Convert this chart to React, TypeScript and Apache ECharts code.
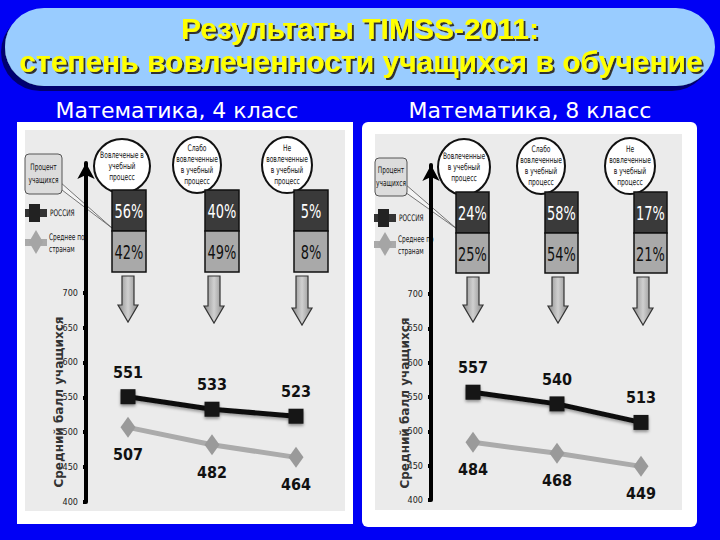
import React, { useEffect, useRef } from "react";
import * as echarts from "echarts";

const categories = ["Вовлеченные", "Слабо вовлеченные", "Не вовлеченные"];
const bubbles4 = ["Вовлеченые в\nучебный\nпроцесс", "Слабо\nвовлеченные\nв учебный\nпроцесс", "Не\nвовлеченные\nв учебный\nпроцесс"];
const bubbles8 = ["Вовлеченные\nв учебный\nпроцесс", "Слабо\nвовлеченные\nв учебный\nпроцесс", "Не\nвовлеченные\nв учебный\nпроцесс"];
const russia4 = [551, 533, 523];
const avg4 = [507, 482, 464];
const russia8 = [557, 540, 513];
const avg8 = [484, 468, 449];
const pctRussia4 = [56, 40, 5];
const pctAvg4 = [42, 49, 8];
const pctRussia8 = [24, 58, 17];
const pctAvg8 = [25, 54, 21];
const yTicks = [400, 450, 500, 550, 600, 650, 700];

const NARROW = '"Liberation Sans Narrow", "DejaVu Sans Condensed", "Liberation Sans", sans-serif';
const SANS = '"Liberation Sans", Arial, sans-serif';

type PanelCfg = {
  bubbles: string[];
  pctR: number[];
  pctA: number[];
  bubbleC: { cx: number; cy: number; rx: number; ry: number }[];
  boxX: number[];
  boxW: number;
  boxTop: number;
  boxMid: number;
  boxBot: number;
  arrowX: number[];
  arrowTop: number;
  arrowTip: number[];
  callout: { x: number; y: number; w: number; h: number };
  pointer: number[][];
  legendX: number;
  legendRY: number;
  legendAY: number;
  nameX: number;
  nameY: number;
};

function txt(text: string, x: number, y: number, style: any, sx = 1, extra: any = {}): any {
  return {
    type: "text", z: 4, x, y, scaleX: sx, ...extra,
    style: { text, x: 0, y: 0, fontFamily: NARROW, fill: "#111", textVerticalAlign: "middle", ...style },
  };
}

function panelElements(c: PanelCfg): any[] {
  const els: any[] = [];
  c.bubbleC.forEach((b, i) => {
    els.push({ type: "ellipse", z: 3, shape: { cx: b.cx, cy: b.cy, rx: b.rx, ry: b.ry }, style: { fill: "#ffffff", stroke: "#111", lineWidth: 2 } });
    els.push(txt(c.bubbles[i], b.cx, b.cy, { textAlign: "center", fontSize: 9, lineHeight: 11 }, 0.74));
  });
  c.boxX.forEach((x, i) => {
    els.push({ type: "rect", z: 3, shape: { x, y: c.boxTop, width: c.boxW, height: c.boxMid - c.boxTop }, style: { fill: "#3a3a3a", stroke: "#111", lineWidth: 1.5 } });
    els.push({ type: "rect", z: 3, shape: { x, y: c.boxMid, width: c.boxW, height: c.boxBot - c.boxMid }, style: { fill: "#a9a9a9", stroke: "#111", lineWidth: 1.5 } });
    els.push(txt(c.pctR[i] + "%", x + c.boxW / 2, (c.boxTop + c.boxMid) / 2 + 1, { textAlign: "center", fontSize: 20, fill: "#fff" }, 0.72));
    els.push(txt(c.pctA[i] + "%", x + c.boxW / 2, (c.boxMid + c.boxBot) / 2 + 1, { textAlign: "center", fontSize: 20, fill: "#111" }, 0.72));
  });
  c.arrowX.forEach((cx, i) => {
    const yt = c.arrowTop;
    const yb = c.arrowTip[i];
    const hh = 17;
    els.push({
      type: "polygon", z: 3,
      shape: { points: [[cx - 6, yt], [cx + 6, yt], [cx + 6, yb - hh], [cx + 10, yb - hh], [cx, yb], [cx - 10, yb - hh], [cx - 6, yb - hh]] },
      style: { fill: new echarts.graphic.LinearGradient(0, 0, 1, 0, [{ offset: 0, color: "#8a8a8a" }, { offset: 0.5, color: "#d0d0d0" }, { offset: 1, color: "#8a8a8a" }]), stroke: "#333", lineWidth: 1.2 },
    });
  });
  const co = c.callout;
  els.push({ type: "polyline", z: 2, shape: { points: c.pointer }, style: { stroke: "#555", lineWidth: 0.8, fill: "#f4f4f4" } });
  els.push({ type: "rect", z: 3, shape: { x: co.x, y: co.y, width: co.w, height: co.h, r: 4 }, style: { fill: "#dcdcdc", stroke: "#555", lineWidth: 1 } });
  els.push(txt("Процент\nучащихся", co.x + co.w / 2, co.y + co.h / 2, { textAlign: "center", fontSize: 9, lineHeight: 13 }, 0.72));
  const lx = c.legendX;
  const ry = c.legendRY;
  els.push({ type: "rect", z: 3, shape: { x: lx, y: ry - 4, width: 22, height: 8 }, style: { fill: "#333" } });
  els.push({ type: "rect", z: 3, shape: { x: lx + 4, y: ry - 9, width: 11, height: 18 }, style: { fill: "#222" } });
  els.push(txt("РОССИЯ", lx + 25, ry, { fontSize: 9 }, 0.72));
  const ay = c.legendAY;
  els.push({ type: "rect", z: 3, shape: { x: lx, y: ay - 3, width: 22, height: 7 }, style: { fill: "#aaa" } });
  els.push({ type: "polygon", z: 3, shape: { points: [[lx + 11, ay - 12], [lx + 18, ay], [lx + 11, ay + 12], [lx + 4, ay]] }, style: { fill: "#a5a5a5" } });
  els.push(txt("Среднее по\nстранам", lx + 24, ay + 1, { fontSize: 9, lineHeight: 12 }, 0.72));
  els.push(txt("Средний балл учащихся", c.nameX, c.nameY, { textAlign: "center", fontSize: 12, fontWeight: "bold", fontFamily: '"DejaVu Sans", sans-serif', fill: "#333" }, 1, { rotation: Math.PI / 2 }));
  return els;
}

function makeSeries(idx: number, r: number[], a: number[]): any[] {
  const label = (pos: string) => ({ show: true, position: pos, distance: 9, fontSize: 16, fontWeight: "bold", fontFamily: NARROW, color: "#111" });
  return [
    {
      type: "line", xAxisIndex: idx, yAxisIndex: idx, data: r, symbol: "rect", symbolSize: 15,
      lineStyle: { color: "#111", width: 5, shadowColor: "rgba(0,0,0,0.35)", shadowBlur: 3, shadowOffsetY: 2 },
      itemStyle: { color: "#151515", shadowColor: "rgba(0,0,0,0.4)", shadowBlur: 3, shadowOffsetY: 2 },
      label: label("top"), z: 5,
    },
    {
      type: "line", xAxisIndex: idx, yAxisIndex: idx, data: a, symbol: "diamond", symbolSize: [15, 21],
      lineStyle: { color: "#ababab", width: 5 },
      itemStyle: { color: "#9a9a9a" },
      label: label("bottom"), z: 4,
    },
  ];
}

export default function App() {
  const ref = useRef<HTMLDivElement>(null);
  useEffect(() => {
    if (!ref.current) return;
    const chart = echarts.init(ref.current, null, { renderer: "svg" });
    const left: PanelCfg = {
      bubbles: bubbles4, pctR: pctRussia4, pctA: pctAvg4,
      bubbleC: [{ cx: 122, cy: 166, rx: 28, ry: 27 }, { cx: 197, cy: 165, rx: 24, ry: 28 }, { cx: 287, cy: 165, rx: 25, ry: 28 }],
      boxX: [112, 205, 294], boxW: 34, boxTop: 190, boxMid: 231, boxBot: 272,
      arrowX: [128, 214, 302], arrowTop: 276, arrowTip: [322, 323, 325],
      callout: { x: 25, y: 154, w: 37, h: 40 },
      pointer: [[60, 182], [112, 228], [62, 190]],
      legendX: 25, legendRY: 213, legendAY: 242, nameX: 59, nameY: 402,
    };
    const right: PanelCfg = {
      bubbles: bubbles8, pctR: pctRussia8, pctA: pctAvg8,
      bubbleC: [{ cx: 464, cy: 167, rx: 26, ry: 28 }, { cx: 541, cy: 166, rx: 24, ry: 28 }, { cx: 630, cy: 166, rx: 25, ry: 28 }],
      boxX: [456, 545, 634], boxW: 33, boxTop: 192, boxMid: 233, boxBot: 273,
      arrowX: [473, 558, 643], arrowTop: 277, arrowTip: [322, 323, 325],
      callout: { x: 375, y: 158, w: 32, h: 38 },
      pointer: [[405, 184], [457, 229], [405, 192]],
      legendX: 374, legendRY: 218, legendAY: 244, nameX: 405, nameY: 403,
    };
    const yAxis = (max: number) => ({
      type: "value", min: 400, max, z: 6,
      splitLine: { show: false },
      axisLine: { show: true, symbol: ["none", "arrow"], symbolSize: [13, 16], lineStyle: { color: "#000", width: 4 } },
      axisTick: { show: true, customValues: yTicks, length: 3, inside: false, lineStyle: { color: "#000", width: 4 } },
      axisLabel: { show: true, customValues: yTicks, margin: 8, fontSize: 9, fontFamily: NARROW, color: "#222" },
    });
    const xAxis = (gi: number) => ({ type: "category", gridIndex: gi, data: categories, boundaryGap: true, show: false });
    const titleStyle = { textAlign: "center", textVerticalAlign: "middle", fontSize: 30, fontWeight: "bold", fontFamily: SANS, fill: "#ffff00", textShadowColor: "#333333", textShadowOffsetX: 2, textShadowOffsetY: 2, textShadowBlur: 1 };
    chart.setOption({
      animation: false,
      backgroundColor: "#0000f5",
      grid: [
        { left: 86, top: 163, width: 252, bottom: 38 },
        { left: 431, top: 165, width: 252, bottom: 40 },
      ],
      xAxis: [xAxis(0), xAxis(1)],
      yAxis: [{ ...yAxis(886), gridIndex: 0 }, { ...yAxis(888), gridIndex: 1 }],
      series: [...makeSeries(0, russia4, avg4), ...makeSeries(1, russia8, avg8)],
      graphic: [
        { type: "rect", z: -10, shape: { x: 5, y: 8, width: 710, height: 78, r: 39 }, style: { fill: "#99ccff", shadowColor: "#000070", shadowOffsetX: -4, shadowOffsetY: 5, shadowBlur: 0 } },
        { type: "text", z: -9, style: { text: "Результаты TIMSS-2011:", x: 360, y: 28, ...titleStyle } },
        { type: "text", z: -9, style: { text: "степень вовлеченности учащихся в обучение", x: 361, y: 61, ...titleStyle } },
        { type: "text", z: -9, style: { text: "Математика, 4 класс", x: 177, y: 110, textAlign: "center", textVerticalAlign: "middle", fontSize: 22, fontFamily: '"DejaVu Sans", sans-serif', fill: "#ffffff" } },
        { type: "text", z: -9, style: { text: "Математика, 8 класс", x: 530, y: 110, textAlign: "center", textVerticalAlign: "middle", fontSize: 22, fontFamily: '"DejaVu Sans", sans-serif', fill: "#ffffff" } },
        { type: "rect", z: -10, shape: { x: 17, y: 122, width: 336, height: 402 }, style: { fill: "#ffffff" } },
        { type: "rect", z: -9, shape: { x: 25, y: 130, width: 320, height: 381 }, style: { fill: "#ebebeb" } },
        { type: "rect", z: -10, shape: { x: 362, y: 122, width: 335, height: 405, r: 6 }, style: { fill: "#ffffff" } },
        { type: "rect", z: -9, shape: { x: 375, y: 134, width: 307, height: 376 }, style: { fill: "#ebebeb" } },
        ...panelElements(left),
        ...panelElements(right),
      ],
    });
    return () => chart.dispose();
  }, []);
  return <div ref={ref} style={{ width: 720, height: 540, position: "absolute", left: 0, top: 0 }} />;
}
